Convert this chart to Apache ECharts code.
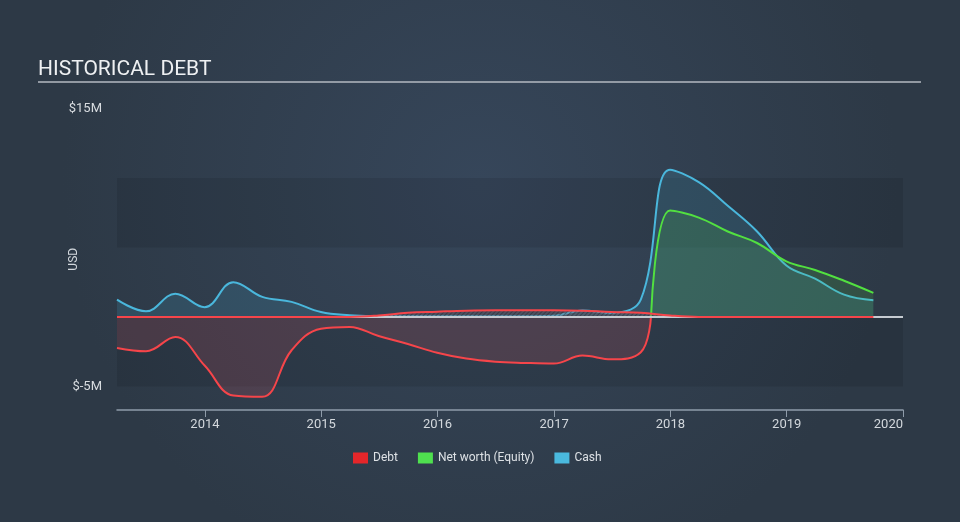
<!DOCTYPE html>
<html><head><meta charset="utf-8">
<script src="https://cdn.jsdelivr.net/npm/echarts@6/dist/echarts.min.js"></script>
<style>html,body{margin:0;padding:0;background:#313e4d}#c{width:960px;height:522px}</style>
</head><body><div id="c"></div>
<script>
// Quarter-end dates
const dates = [
  '2013-03-31','2013-06-30','2013-09-30','2013-12-31',
  '2014-03-31','2014-06-30','2014-09-30','2014-12-31',
  '2015-03-31','2015-06-30','2015-09-30','2015-12-31',
  '2016-03-31','2016-06-30','2016-09-30','2016-12-31',
  '2017-03-31','2017-06-30','2017-09-30','2017-12-31',
  '2018-03-31','2018-06-30','2018-09-30','2018-12-31',
  '2019-03-31','2019-06-30','2019-09-30'
];
// values in USD millions
const debt = [
  0, 0, 0, 0,
  0, 0, 0, 0,
  0, 0.1, 0.3, 0.38,
  0.45, 0.48, 0.48, 0.48,
  0.45, 0.35, 0.3, 0.1,
  0, 0, 0, 0,
  0, 0, 0
];
const equity = [
  -2.23, -2.47, -1.44, -3.5,
  -5.66, -5.75, -2.4, -0.85,
  -0.72, -1.38, -1.95, -2.58,
  -3.0, -3.22, -3.31, -3.36,
  -2.78, -3.05, -2.55, 7.65,
  7.15, 6.15, 5.32, 4.0,
  3.38, 2.6, 1.73
];
const cash = [
  1.24, 0.4, 1.67, 0.7,
  2.5, 1.44, 1.08, 0.35,
  0.12, 0.06, 0.05, 0.05,
  0.05, 0.05, 0.05, 0.08,
  0.47, 0.29, 1.24, 10.6,
  9.7, 8.0, 6.15, 3.7,
  2.75, 1.6, 1.2
];
// where net worth crosses zero
const equityCrossDate = '2017-11-01';
const equityCrossValue = 0;
const yLabelValues = [-5, 15];
const seriesNames = ['Debt', 'Net worth (Equity)', 'Cash'];
const xMin = '2013-03-31';
const xMax = '2020-01-01';
const yMin = -6.7;
const yMax = 15;

const pair = arr => dates.map((d, i) => [d, arr[i]]);
const eqPairs = pair(equity);
const eqNeg = eqPairs.filter(p => p[1] < 0).concat([[equityCrossDate, equityCrossValue]]);
const eqPos = [[equityCrossDate, equityCrossValue]].concat(eqPairs.filter(p => p[1] >= 0));

const FONT = 'Roboto';
const RED = '#f6454a', GREEN = '#52e040', BLUE = '#4ab7dc';

const chart = echarts.init(document.getElementById('c'), null, {renderer: 'canvas'});
chart.setOption({
  animation: false,
  backgroundColor: {
    type: 'radial', x: 0.5, y: 0.35, r: 0.8,
    colorStops: [{offset: 0, color: '#36465a'}, {offset: 1, color: '#2d3946'}]
  },
  title: {
    text: 'HISTORICAL DEBT', left: 33, top: 54,
    textStyle: {color: '#eef0f2', fontSize: 21, fontWeight: 'normal', fontFamily: FONT}
  },
  graphic: [{
    type: 'line', shape: {x1: 38, y1: 82, x2: 921, y2: 82},
    style: {stroke: '#b4bac2', lineWidth: 1.5}, silent: true
  }],
  legend: {
    left: 348, top: 447, itemWidth: 15, itemHeight: 11, itemGap: 20,
    icon: 'rect',
    textStyle: {color: '#dde1e5', fontSize: 12, fontFamily: FONT},
    data: [
      {name: seriesNames[0], itemStyle: {color: '#e5262a'}},
      {name: seriesNames[1], itemStyle: {color: '#4fe04f'}},
      {name: seriesNames[2], itemStyle: {color: '#4ab9de'}}
    ]
  },
  grid: {left: 117, right: 57, top: 108.5, bottom: 112},
  xAxis: {
    type: 'time', min: xMin, max: xMax,
    minInterval: 365 * 24 * 3600 * 1000, maxInterval: 366 * 24 * 3600 * 1000,
    axisLine: {show: true, onZero: false, lineStyle: {color: '#8f9caa', width: 1.5}},
    axisTick: {show: true, length: 7, lineStyle: {color: '#8f9caa', width: 1}},
    splitLine: {show: false},
    axisLabel: {
      color: '#d3d8dd', fontSize: 13, fontFamily: FONT, margin: 8,
      showMaxLabel: true, alignMaxLabel: 'right',
      formatter: v => String(new Date(v).getFullYear())
    }
  },
  yAxis: {
    type: 'value', min: yMin, max: yMax,
    name: 'USD', nameLocation: 'middle', nameGap: 37, nameMoveOverlap: false,
    nameTextStyle: {color: '#d3d8dd', fontSize: 12, fontFamily: FONT},
    axisLine: {show: false}, axisTick: {show: false}, splitLine: {show: false},
    axisLabel: {
      customValues: yLabelValues,
      color: '#d8dce0', fontSize: 13, fontFamily: FONT, margin: 15,
      formatter: v => '$' + v + 'M'
    }
  },
  series: [
    {
      type: 'line', name: '_bands', data: [], z: 1, silent: true,
      markArea: {
        silent: true, itemStyle: {color: 'rgba(0,0,0,0.09)'},
        data: [[{yAxis: 10}, {yAxis: 5}], [{yAxis: 0}, {yAxis: -5}]]
      }
    },
    {
      type: 'line', name: seriesNames[2], data: pair(cash), z: 2,
      smooth: 0.4, symbol: 'none',
      lineStyle: {color: BLUE, width: 2}, itemStyle: {color: BLUE},
      areaStyle: {color: 'rgba(74,183,220,0.22)'},
      markLine: {
        silent: true, symbol: ['none', 'none'], label: {show: false},
        lineStyle: {color: '#c6cbd1', width: 2, type: 'solid'},
        data: [{yAxis: 0}]
      }
    },
    {
      type: 'line', name: 'Net worth (negative)', data: eqNeg, z: 3,
      smooth: 0.4, symbol: 'none',
      lineStyle: {color: RED, width: 2}, itemStyle: {color: RED},
      areaStyle: {color: 'rgba(250,90,105,0.22)'}
    },
    {
      type: 'line', name: seriesNames[1], data: eqPos, z: 3,
      smooth: 0.4, symbol: 'none',
      lineStyle: {color: GREEN, width: 2}, itemStyle: {color: GREEN},
      areaStyle: {color: 'rgba(82,210,60,0.22)'}
    },
    {
      type: 'line', name: '_debtHatch', data: pair(debt), z: 4, silent: true,
      smooth: 0.4, symbol: 'none',
      lineStyle: {width: 0},
      itemStyle: {
        color: RED,
        decal: {symbol: 'rect', symbolSize: 1, dashArrayX: [1, 0], dashArrayY: [1, 2], rotation: -Math.PI / 4, color: 'rgba(25,30,40,0.6)'}
      },
      areaStyle: {color: 'rgba(120,105,115,0.55)'}
    },
    {
      type: 'line', name: seriesNames[0], data: pair(debt), z: 5,
      smooth: 0.4, symbol: 'none',
      lineStyle: {color: RED, width: 2}, itemStyle: {color: RED}
    }
  ]
});
</script>
</body></html>
